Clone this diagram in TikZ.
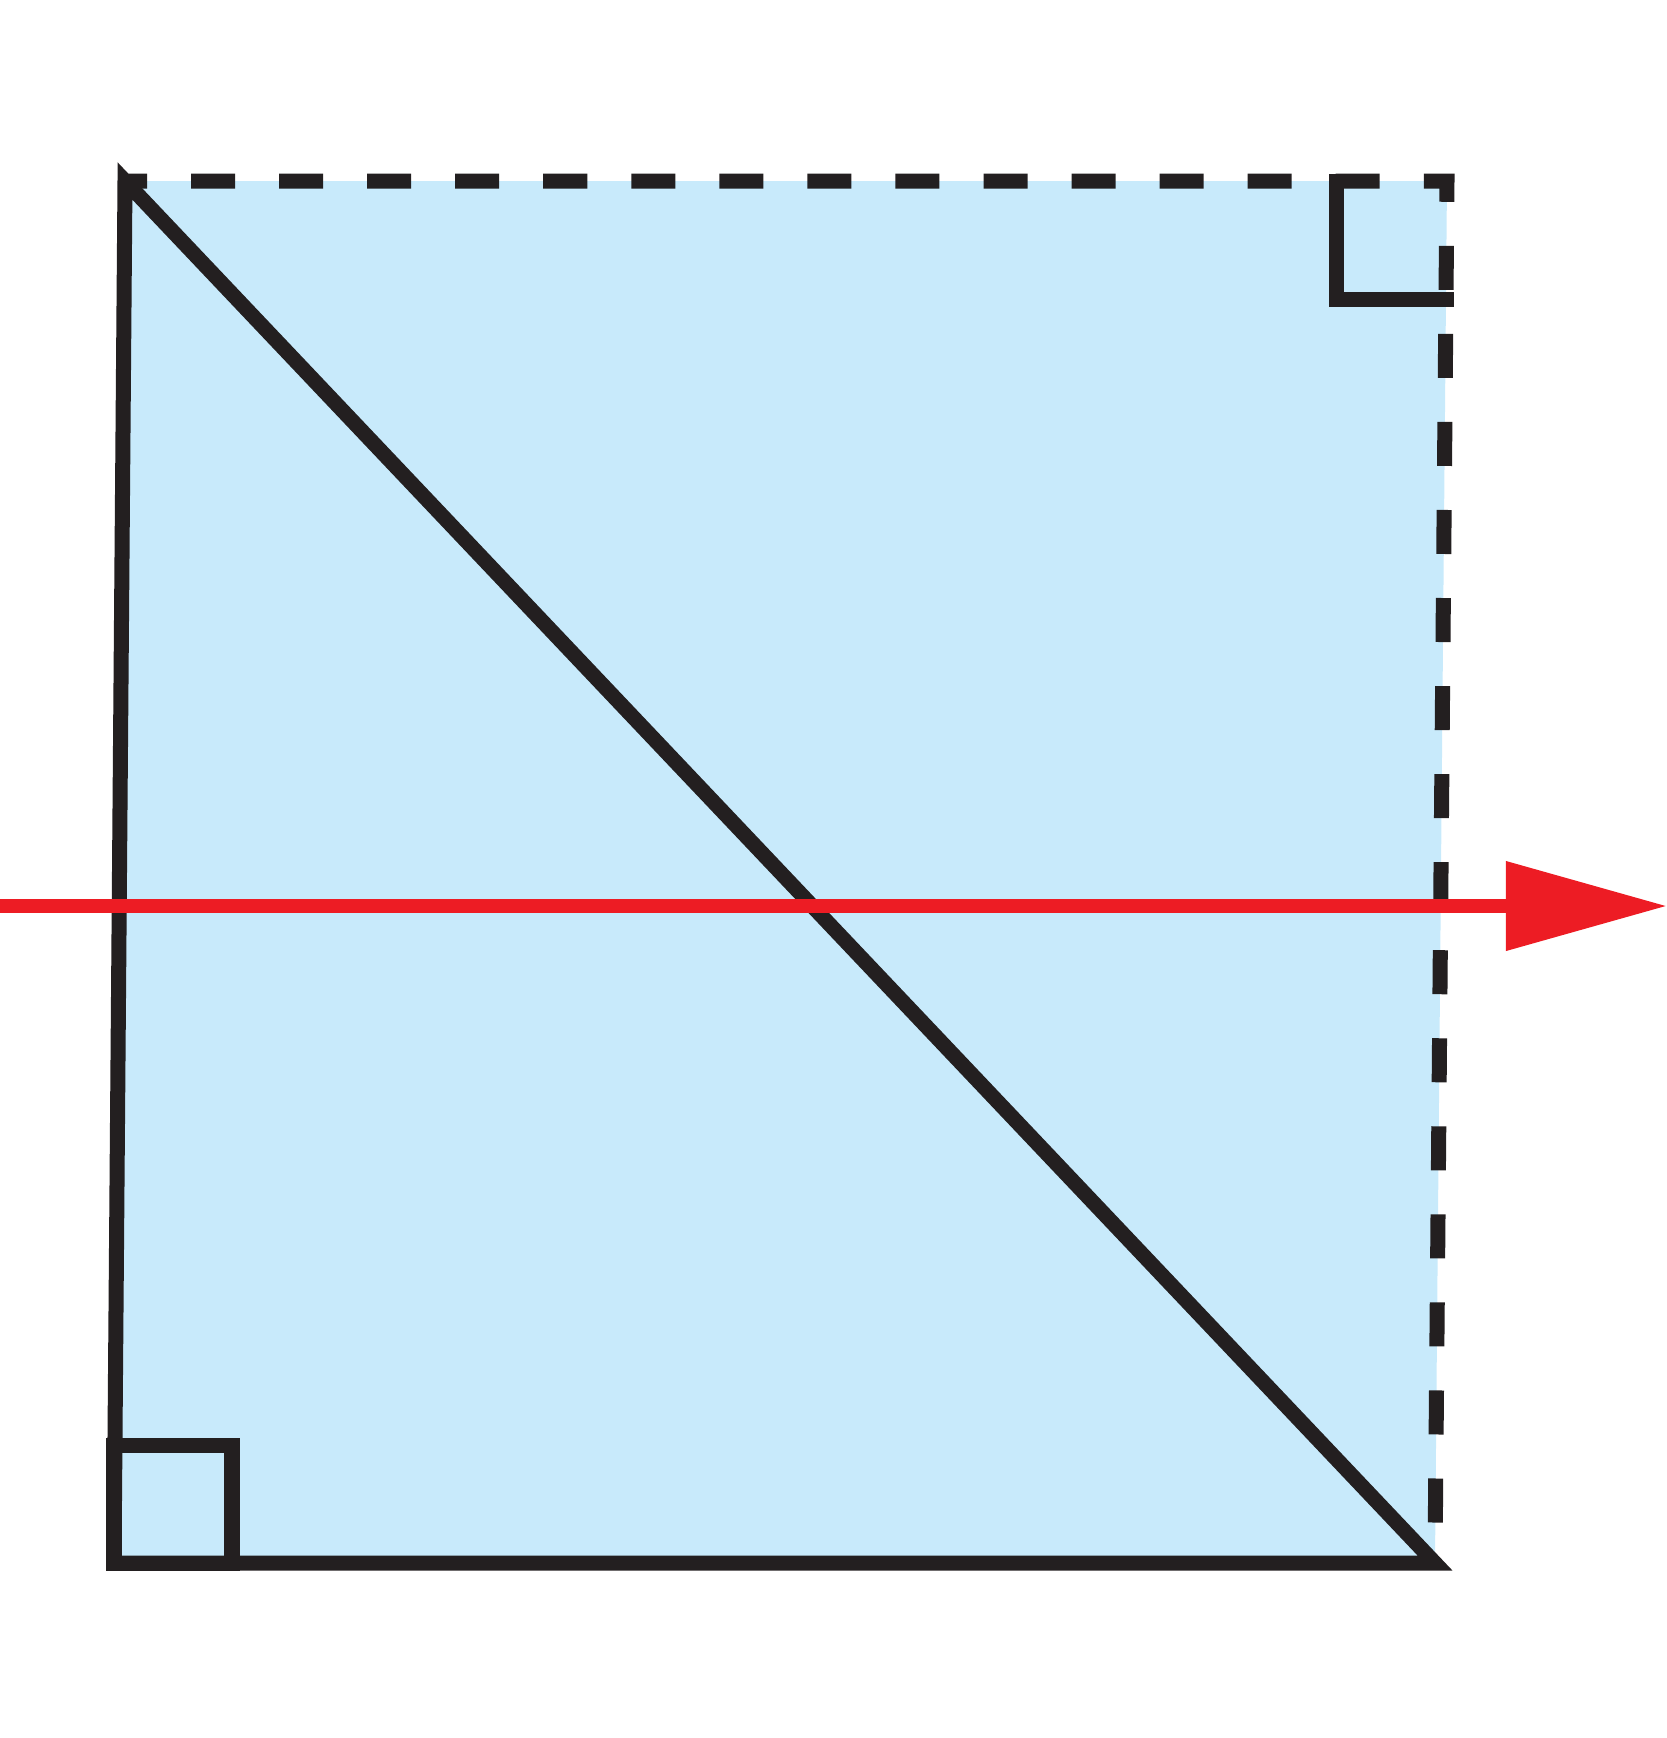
\documentclass[tikz,border=0pt]{standalone}
\usepackage{tikz}
\usetikzlibrary{arrows.meta}
\definecolor{sheet}{RGB}{200,234,251}
\definecolor{ink}{RGB}{35,31,32}
\definecolor{ray}{RGB}{237,28,36}
\tikzstyle{edge} = [draw=ink, line width=0.15cm]
\tikzstyle{hidden} = [edge, dash pattern=on 0.44cm off 0.44cm, dash phase=0.22cm]
\tikzstyle{beam} = [draw=ray, line width=0.14cm, -{Triangle[length=1.61cm,width=0.86cm]}]

\begin{document}
\begin{tikzpicture}[x=0.01cm,y=-0.01cm]
	\useasboundingbox (0,0) rectangle (1667,1738);
	\coordinate (topLeft) at (125,181);
	\coordinate (bottomLeft) at (114,1563);
	\coordinate (bottomRight) at (1435,1563);
	\coordinate (topRight) at (1447,181);
	\coordinate (rayStart) at (0,906);
	\coordinate (rayEnd) at (1667,906);
	\fill[sheet] (topLeft) -- (topRight) -- (bottomRight) -- (bottomLeft) -- cycle;
	\draw[edge] (topLeft) -- (bottomLeft) -- (bottomRight) -- cycle; % solid half
	\draw[hidden] (topLeft) -- (topRight) -- (bottomRight);
	\draw[edge] (bottomLeft) ++(0,-118) rectangle ++(118,118); % right angle
	\draw[edge] (topRight) ++(-111,-7) -- ++(0,125) -- ++(118,0);
	\draw[beam] (rayStart) -- (rayEnd);
\end{tikzpicture}
\end{document}
